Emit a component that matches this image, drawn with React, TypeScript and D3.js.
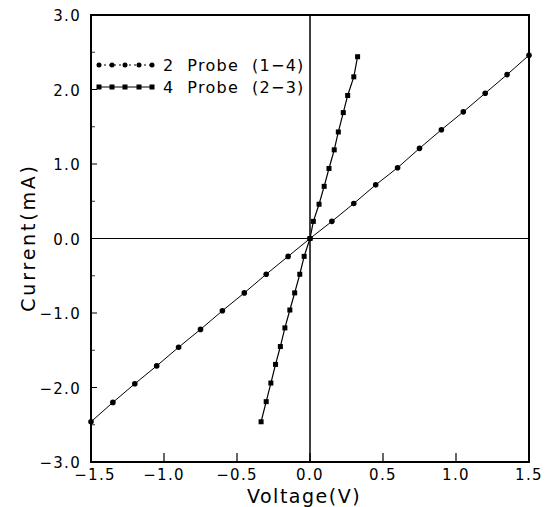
import React from "react";
import * as d3 from "d3";

const probe2V = [-1.5, -1.35, -1.2, -1.05, -0.9, -0.75, -0.6, -0.45, -0.3, -0.15, 0, 0.15, 0.3, 0.45, 0.6, 0.75, 0.9, 1.05, 1.2, 1.35, 1.5];
const probe2I = [-2.46, -2.2, -1.95, -1.71, -1.46, -1.22, -0.97, -0.73, -0.48, -0.24, 0, 0.23, 0.47, 0.72, 0.95, 1.21, 1.46, 1.7, 1.95, 2.2, 2.46];

const probe4V = [-0.335, -0.3, -0.268, -0.236, -0.203, -0.172, -0.138, -0.105, -0.07, -0.04, 0, 0.023, 0.062, 0.097, 0.13, 0.166, 0.194, 0.228, 0.258, 0.3, 0.326];
const probe4I = [-2.46, -2.19, -1.94, -1.69, -1.45, -1.2, -0.96, -0.73, -0.48, -0.24, 0, 0.23, 0.46, 0.7, 0.94, 1.19, 1.43, 1.69, 1.92, 2.17, 2.44];

const xTicks = [-1.5, -1.0, -0.5, 0.0, 0.5, 1.0, 1.5];
const yTicks = [-3.0, -2.0, -1.0, 0.0, 1.0, 2.0, 3.0];
const yMinorTicks = [-2.5, -1.5, -0.5, 0.5, 1.5, 2.5];
const legendLabels = ["2  Probe  (1\u22124)", "4  Probe  (2\u22123)"];

const W = 548, H = 507;
const left = 91, right = 529, top = 15, bottom = 462;

const fmt = (v: number) => (v < 0 ? "\u2212" : "") + Math.abs(v).toFixed(1);

export default function App() {
  const x = d3.scaleLinear().domain([-1.5, 1.5]).range([left, right]);
  const y = d3.scaleLinear().domain([-3, 3]).range([bottom, top]);
  const line = d3.line<[number, number]>().x(d => x(d[0])).y(d => y(d[1]));
  const p2 = probe2V.map((v, i) => [v, probe2I[i]] as [number, number]);
  const p4 = probe4V.map((v, i) => [v, probe4I[i]] as [number, number]);
  const font = "'DejaVu Sans', 'Liberation Sans', sans-serif";
  const legX = [99, 112, 125, 139, 152];
  return (
    <svg width={W} height={H} style={{ position: "absolute", left: 0, top: 0, background: "#fff" }} fontFamily={font}>
      <rect x={0} y={0} width={W} height={H} fill="#fff" />
      {/* zero lines */}
      <line x1={x(0)} x2={x(0)} y1={top} y2={bottom} stroke="#000" strokeWidth={1.5} />
      <line x1={left} x2={right} y1={y(0)} y2={y(0)} stroke="#000" strokeWidth={1.2} />
      {/* frame */}
      <rect x={left} y={top} width={right - left} height={bottom - top} fill="none" stroke="#000" strokeWidth={2} />
      {/* ticks */}
      {xTicks.slice(1, -1).map(t => (
        <line key={"xt" + t} x1={x(t)} x2={x(t)} y1={bottom} y2={bottom - 9} stroke="#000" strokeWidth={1.2} />
      ))}
      {yTicks.slice(1, -1).map(t => (
        <line key={"yt" + t} x1={left} x2={left + 6} y1={y(t)} y2={y(t)} stroke="#000" strokeWidth={1} />
      ))}
      {yMinorTicks.map(t => (
        <line key={"ym" + t} x1={left} x2={left + 4} y1={y(t)} y2={y(t)} stroke="#000" strokeWidth={0.8} />
      ))}
      {/* tick labels */}
      {xTicks.map(t => (
        <text key={"xl" + t} x={x(t) + (t === -1.5 ? 4 : 0)} y={bottom + 18} fontSize={15} letterSpacing={1.3} textAnchor="middle" fill="#000">{fmt(t)}</text>
      ))}
      {yTicks.map(t => (
        <text key={"yl" + t} x={left - 10} y={y(t) + 6} fontSize={15} letterSpacing={1.3} textAnchor="end" fill="#000">{fmt(t)}</text>
      ))}
      {/* axis titles */}
      <text x={x(0) - 6} y={503} fontSize={19} letterSpacing={1.5} textAnchor="middle" fill="#000">Voltage(V)</text>
      <text transform={`translate(35,${y(0) - 1}) rotate(-90)`} fontSize={19} letterSpacing={2.8} textAnchor="middle" fill="#000">Current(mA)</text>
      {/* data */}
      <path d={line(p2) || ""} fill="none" stroke="#000" strokeWidth={1} />
      {p2.map((d, i) => (
        <circle key={"c" + i} cx={x(d[0])} cy={y(d[1])} r={2.8} fill="#000" />
      ))}
      <path d={line(p4) || ""} fill="none" stroke="#000" strokeWidth={1.2} />
      {p4.map((d, i) => (
        <rect key={"s" + i} x={x(d[0]) - 2.5} y={y(d[1]) - 2.5} width={5} height={5} fill="#000" />
      ))}
      {/* legend */}
      <line x1={legX[0]} x2={legX[4]} y1={65} y2={65} stroke="#000" strokeWidth={1} strokeDasharray="2,3" />
      {legX.map((lx, i) => <circle key={"lc" + i} cx={lx} cy={65} r={2.5} fill="#000" />)}
      <text x={163} y={71} fontSize={16} letterSpacing={1.3} fill="#000" style={{ whiteSpace: "pre" }}>{legendLabels[0]}</text>
      <line x1={legX[0]} x2={legX[4]} y1={87} y2={87} stroke="#000" strokeWidth={1} />
      {legX.map((lx, i) => <rect key={"ls" + i} x={lx - 2.5} y={84.5} width={5} height={5} fill="#000" />)}
      <text x={163} y={93} fontSize={16} letterSpacing={1.3} fill="#000" style={{ whiteSpace: "pre" }}>{legendLabels[1]}</text>
    </svg>
  );
}
